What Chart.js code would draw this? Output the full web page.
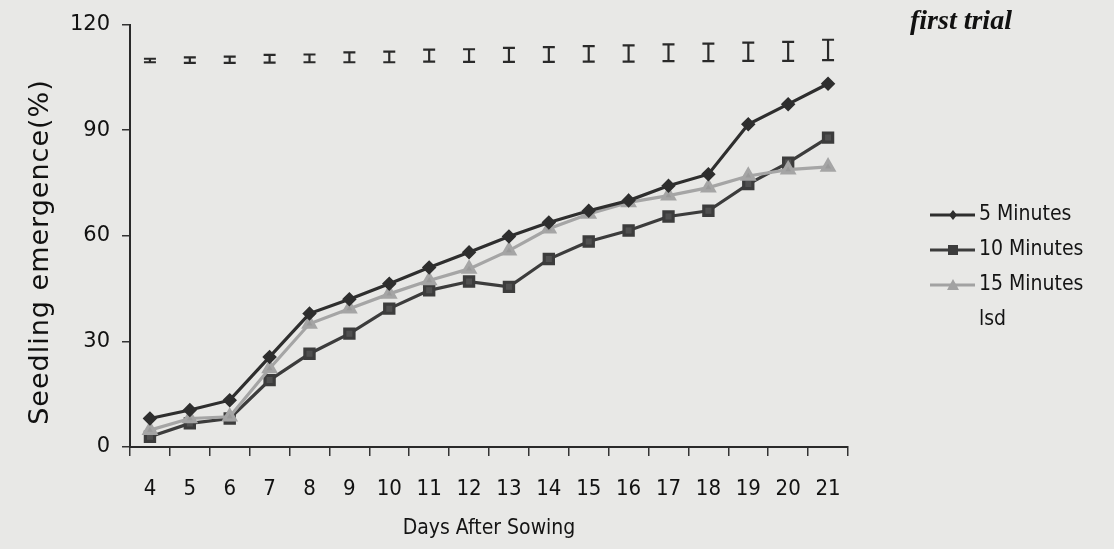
<!DOCTYPE html>
<html>
<head>
<meta charset="utf-8">
<script src="https://cdn.jsdelivr.net/npm/chart.js@4/dist/chart.umd.min.js"></script>
<style>
  html, body { margin: 0; padding: 0; background: #e8e8e6; }
  #wrap { width: 1114px; height: 549px; position: relative; }
</style>
</head>
<body>
<div id="wrap"><canvas id="c" width="1114" height="549"></canvas></div>
<script>
const days = ['4','5','6','7','8','9','10','11','12','13','14','15','16','17','18','19','20','21'];
const min5 = [8.1, 10.5, 13.3, 25.6, 37.9, 42, 46.4, 51, 55.3, 59.8, 63.8, 67.1, 70, 74.2, 77.5, 91.7, 97.4, 103.2];
const min10 = [2.9, 6.7, 8.1, 19, 26.5, 32.2, 39.3, 44.5, 47, 45.5, 53.4, 58.4, 61.5, 65.5, 67.1, 74.7, 80.8, 87.9];
const min15 = [4.8, 8.1, 8.6, 22.3, 35, 39.3, 43.5, 47.3, 50.6, 55.8, 62, 66.2, 69.5, 71.4, 73.7, 77, 78.8, 79.6];
// lsd bars: centre and half length
const lsdMid = [109.8, 109.9, 110, 110.3, 110.4, 110.7, 110.8, 111.2, 111.2, 111.4, 111.5, 111.7, 111.8, 112, 112.1, 112.3, 112.4, 112.8];
const lsdHalf = [0.5, 0.8, 0.9, 1.1, 1.1, 1.4, 1.5, 1.7, 1.8, 2.0, 2.1, 2.2, 2.3, 2.4, 2.5, 2.6, 2.7, 2.9];

const yTitle = 'Seedling emergence(%)';
const legendItems = [
  { label: '5 Minutes', color: '#2e2e2e', style: 'diamond' },
  { label: '10 Minutes', color: '#3c3c3c', style: 'square' },
  { label: '15 Minutes', color: '#a2a2a2', style: 'triangle' },
  { label: 'lsd', color: null, style: null }
];

const extras = {
  id: 'extras',
  afterDatasetsDraw(chart) {
    const ctx = chart.ctx;
    const x = chart.scales.x, y = chart.scales.y;
    ctx.save();
    ctx.strokeStyle = '#2a2a2a';
    ctx.lineWidth = 2.2;
    lsdMid.forEach((m, i) => {
      const px = x.getPixelForValue(i);
      const top = y.getPixelForValue(m + lsdHalf[i]);
      const bot = y.getPixelForValue(m - lsdHalf[i]);
      ctx.beginPath();
      ctx.moveTo(px, top); ctx.lineTo(px, bot);
      ctx.moveTo(px - 6, top); ctx.lineTo(px + 6, top);
      ctx.moveTo(px - 6, bot); ctx.lineTo(px + 6, bot);
      ctx.stroke();
    });

    // legend
    legendItems.forEach((it, i) => {
      const ly = 215 + i * 35;
      if (it.color) {
        ctx.strokeStyle = it.color;
        ctx.fillStyle = it.color;
        ctx.lineWidth = 3;
        ctx.beginPath();
        ctx.moveTo(930, ly); ctx.lineTo(975, ly);
        ctx.stroke();
        ctx.beginPath();
        const cx = 953;
        if (it.style === 'diamond') {
          ctx.moveTo(cx, ly - 5); ctx.lineTo(cx + 4, ly); ctx.lineTo(cx, ly + 5); ctx.lineTo(cx - 4, ly);
        } else if (it.style === 'square') {
          ctx.rect(cx - 5, ly - 5, 10, 10);
        } else {
          ctx.moveTo(cx, ly - 6); ctx.lineTo(cx + 6, ly + 5); ctx.lineTo(cx - 6, ly + 5);
        }
        ctx.closePath();
        ctx.fill();
      }
      ctx.fillStyle = '#141414';
      ctx.font = '21px "DejaVu Sans Condensed", "DejaVu Sans"';
      ctx.textBaseline = 'middle';
      ctx.textAlign = 'left';
      ctx.fillText(it.label, 979, ly);
    });

    ctx.font = 'italic bold 28px "Liberation Serif"';
    ctx.fillStyle = '#111';
    ctx.textAlign = 'left';
    ctx.fillText('first trial', 910, 22);

    // y axis title
    ctx.translate(41, 252);
    ctx.rotate(-Math.PI / 2);
    ctx.font = '27px "DejaVu Sans"';
    ctx.letterSpacing = '1px';
    ctx.textAlign = 'center';
    ctx.textBaseline = 'middle';
    ctx.fillText(yTitle, 0, 0);
    ctx.restore();
  }
};

new Chart(document.getElementById('c'), {
  type: 'line',
  data: {
    labels: days,
    datasets: [
      {
        label: '5 Minutes', data: min5, borderColor: '#2e2e2e', backgroundColor: '#2e2e2e',
        borderWidth: 3.2, pointStyle: 'rectRot', pointRadius: 5, order: 1
      },
      {
        label: '10 Minutes', data: min10, borderColor: '#3c3c3c', backgroundColor: '#505050',
        borderWidth: 3.2, pointStyle: 'rect', pointRadius: 6.5, order: 3
      },
      {
        label: '15 Minutes', data: min15, borderColor: '#a5a5a5', backgroundColor: '#9a9a9a',
        borderWidth: 3.2, pointStyle: 'triangle', pointRadius: 6.5, order: 2
      }
    ]
  },
  options: {
    responsive: false,
    animation: false,
    layout: { padding: { left: 30, right: 266, top: 22, bottom: 8 } },
    plugins: { legend: { display: false }, tooltip: { enabled: false } },
    scales: {
      x: {
        offset: true,
        afterFit(s) { s.height = 94; },
        grid: { offset: true, drawOnChartArea: false, tickLength: 9, color: '#333', lineWidth: 1.5 },
        border: { color: '#2a2a2a', width: 2 },
        ticks: { color: '#111', padding: 20, font: { family: 'DejaVu Sans Condensed', size: 22 } },
        title: { display: true, text: 'Days After Sowing', color: '#141414', font: { family: 'DejaVu Sans Condensed', size: 21 }, padding: { top: 4, bottom: 0 } }
      },
      y: {
        min: 0, max: 120,
        afterFit(s) { s.width = 100; },
        grid: { drawOnChartArea: false, tickLength: 8, color: '#333', lineWidth: 1.5 },
        border: { color: '#2a2a2a', width: 2 },
        ticks: { stepSize: 30, color: '#111', padding: 12, font: { family: 'DejaVu Sans', size: 21 } }
      }
    }
  },
  plugins: [extras]
});
</script>
</body>
</html>
